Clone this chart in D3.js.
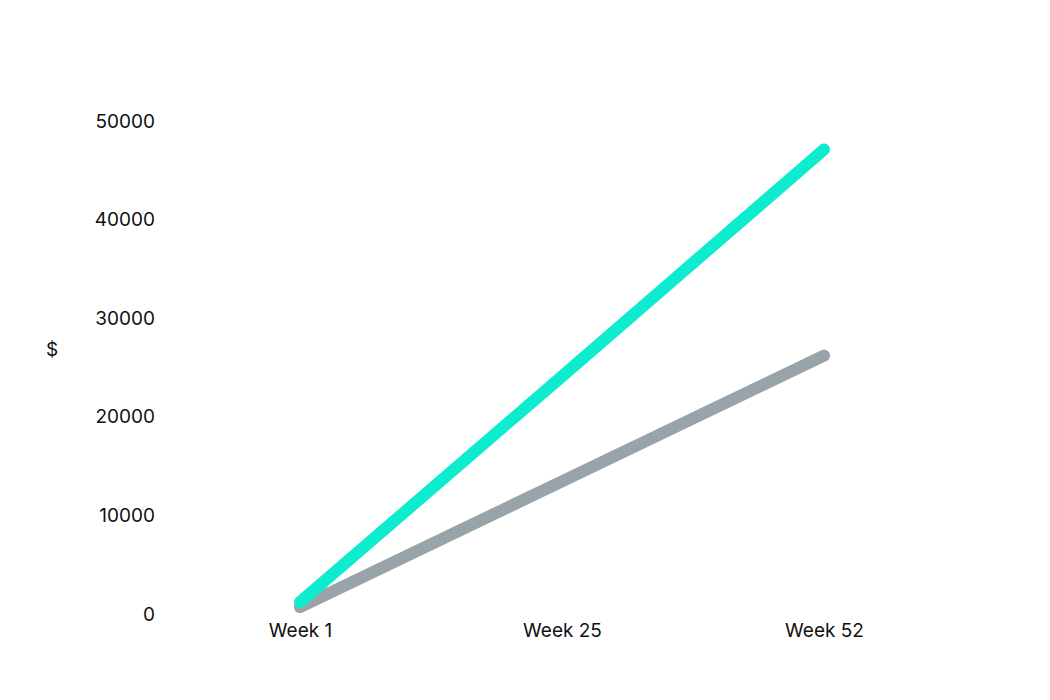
<!DOCTYPE html>
<html>
<head>
<meta charset="utf-8">
<script src="https://cdn.jsdelivr.net/npm/d3@7"></script>
<style>
  html, body { margin: 0; padding: 0; background: #fff; }
  text { font-family: Inter, "Open Sans", sans-serif; }
</style>
</head>
<body>
<svg id="chart" width="1050" height="700"></svg>
<script>
const categories = ["Week 1", "Week 25", "Week 52"];
const seriesTeal = [1000, 23900, 46900];
const seriesGray = [500, 13250, 26000];
const yTicks = [0, 10000, 20000, 30000, 40000, 50000];

const svg = d3.select("#chart");
const margin = { left: 169, right: 95, top: 119, bottom: 88 };
const W = 1050, H = 700;
const FS = 19;

const x = d3.scalePoint().domain(categories).range([margin.left, W - margin.right]).padding(0.5);
const y = d3.scaleLinear().domain([0, 50000]).range([H - margin.bottom, margin.top]);

// Y axis
const yAxis = svg.append("g")
  .attr("transform", `translate(${margin.left - 14},2)`)
  .call(d3.axisLeft(y).tickValues(yTicks).tickSize(0).tickPadding(0).tickFormat(d3.format("d")));
yAxis.select(".domain").remove();
yAxis.selectAll("text").attr("font-size", FS).attr("fill", "#111").attr("font-family", "Inter, 'Open Sans', sans-serif");

// X axis
const xAxis = svg.append("g")
  .attr("transform", `translate(0,${H - margin.bottom + 6})`)
  .call(d3.axisBottom(x).tickSize(0).tickPadding(6));
xAxis.select(".domain").remove();
xAxis.selectAll("text").attr("font-size", FS).attr("fill", "#111").attr("font-family", "Inter, 'Open Sans', sans-serif");

// Y title
svg.append("text").attr("x", 52).attr("y", 351).attr("text-anchor", "middle")
  .attr("dominant-baseline", "middle").attr("font-size", FS).attr("fill", "#111").text("$");

const line = d3.line().x((d, i) => x(categories[i])).y(d => y(d));

svg.append("path").datum(seriesGray).attr("d", line)
  .attr("fill", "none").attr("stroke", "#99a3aa").attr("stroke-width", 12)
  .attr("stroke-linecap", "round").attr("stroke-linejoin", "round");
svg.append("path").datum(seriesTeal).attr("d", line)
  .attr("fill", "none").attr("stroke", "#0decce").attr("stroke-width", 12)
  .attr("stroke-linecap", "round").attr("stroke-linejoin", "round");
</script>
</body>
</html>
